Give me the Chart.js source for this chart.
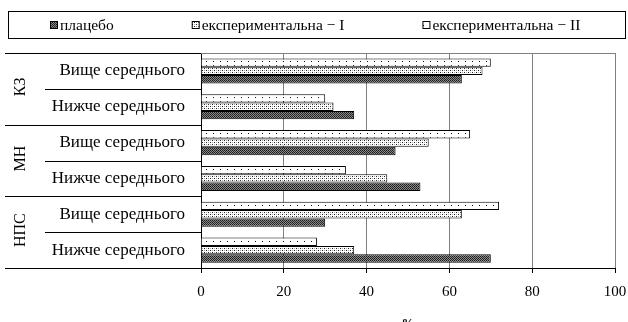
<!DOCTYPE html>
<html><head><meta charset="utf-8">
<script src="https://cdn.jsdelivr.net/npm/chart.js@4.4.0/dist/chart.umd.min.js"></script>
<style>html,body{margin:0;padding:0;background:#fff}</style>
</head><body>
<canvas id="c" width="628" height="322"></canvas>
<script>
const categories = ['Вище середнього','Нижче середнього','Вище середнього','Нижче середнього','Вище середнього','Нижче середнього'];
const groups = ['КЗ','МН','НПС'];
const placebo = [63,37,47,53,30,70];
const exp1 = [68,32,55,45,63,37];
const exp2 = [70,30,65,35,72,28];
const xTicks = [0,20,40,60,80,100];
const seriesLabels = ['плацебо','експериментальна − I','експериментальна − II'];
const xTitle = '%';

const SERIF = "'Liberation Serif', 'Times New Roman', serif";
Chart.defaults.font.family = SERIF;
Chart.defaults.color = '#000';

const canvas = document.getElementById('c');
const mainCtx = canvas.getContext('2d');
function makePattern(w, h, bg, dots) {
  const c = document.createElement('canvas');
  c.width = w; c.height = h;
  const g = c.getContext('2d');
  g.fillStyle = bg; g.fillRect(0, 0, w, h);
  dots.forEach(([x, y, col]) => { g.fillStyle = col; g.fillRect(x, y, 1, 1); });
  return mainCtx.createPattern(c, 'repeat');
}
const patPlacebo = makePattern(2, 2, '#8a8a8a', [[0,0,'#1a1a1a'],[1,1,'#2a2a2a']]);
const patExp1 = makePattern(4, 4, '#fff', [[0,0,'#222'],[2,2,'#222'],[2,0,'#aaa'],[0,2,'#aaa']]);
const patExp2 = makePattern(7, 4, '#fff', [[3,1,'#111']]);

const legendPlugin = {
  id: 'boxLegend',
  afterDraw(chart) {
    const ctx = chart.ctx;
    ctx.save();
    ctx.strokeStyle = '#000'; ctx.lineWidth = 1;
    ctx.strokeRect(8.5, 11.5, 617, 27);
    ctx.font = '15.5px ' + SERIF;
    ctx.textBaseline = 'middle';
    ctx.textAlign = 'left';
    const items = chart.data.datasets.slice().reverse();
    let x = 50;
    items.forEach(ds => {
      ctx.fillStyle = ds.backgroundColor;
      ctx.fillRect(x, 21, 7, 7);
      ctx.strokeStyle = '#000';
      ctx.strokeRect(x + 0.5, 21.5, 7, 7);
      ctx.fillStyle = '#000';
      ctx.fillText(ds.label, x + 10, 25.5);
      x += 10 + ctx.measureText(ds.label).width + 78;
    });
    ctx.restore();
  }
};

const axisDecor = {
  id: 'axisDecor',
  afterDraw(chart) {
    const ctx = chart.ctx;
    const ca = chart.chartArea;
    const ys = chart.scales.y;
    ctx.save();
    ctx.strokeStyle = '#808080'; ctx.lineWidth = 1;
    ctx.beginPath();
    ctx.moveTo(ca.left, Math.round(ca.top) + 0.5);
    ctx.lineTo(ca.right, Math.round(ca.top) + 0.5);
    ctx.stroke();
    const n = categories.length;
    const step = (ys.getPixelForTick(1) - ys.getPixelForTick(0));
    ctx.strokeStyle = '#000';
    for (let i = 0; i <= n; i++) {
      const y = Math.round(ys.getPixelForTick(0) - step / 2 + i * step) + 0.5;
      const x0 = (i % 2 === 0) ? 5 : 45;
      ctx.beginPath();
      ctx.moveTo(x0, y);
      ctx.lineTo(ca.left, y);
      ctx.stroke();
    }
    ctx.font = '16px ' + SERIF;
    ctx.fillStyle = '#000';
    ctx.textAlign = 'center';
    ctx.textBaseline = 'middle';
    groups.forEach((g, gi) => {
      const yc = (ys.getPixelForTick(gi * 2) + ys.getPixelForTick(gi * 2 + 1)) / 2 - 2;
      ctx.save();
      ctx.translate(21, yc);
      ctx.rotate(-Math.PI / 2);
      ctx.fillText(g, 0, 0);
      ctx.restore();
    });
    ctx.restore();
  }
};

new Chart(canvas, {
  type: 'bar',
  data: {
    labels: categories,
    datasets: [
      { label: seriesLabels[2], data: exp2, backgroundColor: patExp2, borderColor: '#000', borderWidth: 1 },
      { label: seriesLabels[1], data: exp1, backgroundColor: patExp1, borderColor: '#000', borderWidth: 1 },
      { label: seriesLabels[0], data: placebo, backgroundColor: patPlacebo, borderColor: '#000', borderWidth: 1 }
    ]
  },
  options: {
    indexAxis: 'y',
    responsive: false,
    animation: false,
    devicePixelRatio: 1,
    layout: { padding: { top: 53, left: 0, right: 13, bottom: -9 } },
    categoryPercentage: 0.7,
    barPercentage: 1.0,
    plugins: { legend: { display: false }, tooltip: { enabled: false } },
    scales: {
      x: {
        min: 0, max: 100,
        afterBuildTicks(s) { s.ticks = xTicks.map(v => ({ value: v })); },
        afterFit(s) { s.height = 63; s.paddingRight = 0; s.paddingLeft = 0; },
        ticks: { font: { size: 15 }, color: '#000', padding: 10 },
        grid: { color: '#808080', tickColor: '#000', tickLength: 5, lineWidth: 1 },
        border: { color: '#000', width: 1 },
        title: { display: true, text: xTitle, font: { size: 13, weight: 'bold' }, padding: { top: 0, bottom: 0 } }
      },
      y: {
        afterFit(s) { s.width = 201; },
        ticks: { font: { size: 17 }, color: '#000', padding: 16, autoSkip: false },
        grid: { display: false, drawTicks: false },
        border: { color: '#000', width: 1 }
      }
    }
  },
  plugins: [legendPlugin, axisDecor]
});
</script>
</body></html>
